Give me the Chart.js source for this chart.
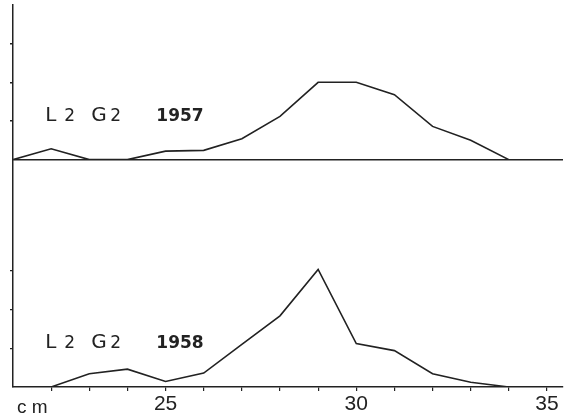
<!DOCTYPE html>
<html>
<head>
<meta charset="utf-8">
<script src="https://cdn.jsdelivr.net/npm/chart.js@4.4.0/dist/chart.umd.min.js"></script>
<style>
  html, body { margin: 0; padding: 0; background: #fff; }
  #wrap { width: 567px; height: 417px; }
</style>
</head>
<body>
<div id="wrap"><canvas id="chart" width="567" height="417"></canvas></div>
<script>
// length classes (cm)
var lengths = [21, 22, 23, 24, 25, 26, 27, 28, 29, 30, 31, 32, 33, 34];
// frequency, L2 G2 1957 (top panel)
var freq1957 = [0, 1.4, 0, 0, 1.1, 1.2, 2.7, 5.6, 10, 10, 8.4, 4.3, 2.5, 0];
// frequency, L2 G2 1958 (bottom panel)
var freq1958 = [null, 0, 1.7, 2.3, 0.7, 1.8, 5.5, 9.2, 15.2, 5.6, 4.7, 1.7, 0.6, 0];
// x tick labels shown, y tick marks
var xLabels = [25, 30, 35];
var yTicks = [5, 10, 15];

var ink = '#222';

function points(vals) {
    return lengths.map(function (x, i) { return { x: x, y: vals[i] }; });
}

// labels "L2 G2 1957" etc and the "cm" unit, drawn next to the axes
var textPlugin = {
    id: 'panelText',
    afterDraw: function (chart) {
        var c = chart.ctx;
        var xs = chart.scales.x;
        var panels = [
            { scale: chart.scales.yTop, year: '1957' },
            { scale: chart.scales.yBot, year: '1958' }
        ];
        c.save();
        c.fillStyle = ink;
        c.textBaseline = 'alphabetic';
        panels.forEach(function (p) {
            var yb = p.scale.getPixelForValue(0) - 39;
            var x0 = xs.getPixelForValue(21.9);
            c.font = '20px "DejaVu Sans", sans-serif';
            c.fillText('L', x0 - 2, yb);
            c.fillText('G', x0 + 44, yb);
            c.font = '17px "DejaVu Sans", sans-serif';
            c.fillText('2', x0 + 17, yb);
            c.fillText('2', x0 + 63, yb);
            c.font = 'bold 17px "DejaVu Sans", sans-serif';
            c.fillText(p.year, x0 + 109, yb);
        });
        c.font = '19px "Liberation Sans", Arial, sans-serif';
        c.fillText('c m', 17, 413);
        c.restore();
    }
};

var ctx = document.getElementById('chart').getContext('2d');

var myChart = new Chart(ctx, {
    type: 'line',
    data: {
        datasets: [{
            label: '1957',
            data: points(freq1957),
            yAxisID: 'yTop',
            borderColor: ink,
            borderWidth: 1.6,
            pointRadius: 0,
            tension: 0,
            fill: false
        }, {
            label: '1958',
            data: points(freq1958),
            yAxisID: 'yBot',
            borderColor: ink,
            borderWidth: 1.6,
            pointRadius: 0,
            tension: 0,
            spanGaps: false,
            fill: false
        }]
    },
    options: {
        responsive: false,
        animation: false,
        layout: { padding: { left: 10, right: 4, top: 5, bottom: 0 } },
        plugins: {
            legend: { display: false },
            tooltip: { enabled: false }
        },
        scales: {
            x: {
                type: 'linear',
                min: 21,
                max: 35.42,
                border: { color: ink, width: 1.5 },
                grid: {
                    drawOnChartArea: false,
                    tickLength: 4,
                    color: ink,
                    lineWidth: 1.2
                },
                afterBuildTicks: function (axis) {
                    axis.ticks = lengths.slice(1).concat([35]).map(function (v) { return { value: v }; });
                },
                ticks: {
                    autoSkip: false,
                    maxRotation: 0,
                    padding: 2,
                    color: ink,
                    font: { family: '"Liberation Sans", Arial, sans-serif', size: 21, lineHeight: 1.05 },
                    callback: function (v) { return xLabels.indexOf(v) >= 0 ? String(v) : ''; }
                }
            },
            // bottom panel first: the first axis of a stack is placed lowest
            yBot: {
                type: 'linear',
                position: 'left',
                stack: 'panels',
                stackWeight: 29.4,
                min: 0,
                max: 29.4,
                border: { color: ink, width: 1.5 },
                afterBuildTicks: function (axis) {
                    axis.ticks = yTicks.map(function (v) { return { value: v }; });
                },
                grid: {
                    drawOnChartArea: false,
                    tickLength: 3,
                    color: ink,
                    lineWidth: 1.2
                },
                ticks: { display: false }
            },
            yTop: {
                type: 'linear',
                position: 'left',
                stack: 'panels',
                stackWeight: 20,
                min: 0,
                max: 20,
                border: { color: ink, width: 1.5 },
                afterBuildTicks: function (axis) {
                    axis.ticks = [0].concat(yTicks).map(function (v) { return { value: v }; });
                },
                grid: {
                    drawOnChartArea: true,
                    tickLength: 3,
                    lineWidth: 1.4,
                    color: function (c) { return c.tick && c.tick.value === 0 ? ink : 'rgba(0,0,0,0)'; },
                    tickColor: function (c) { return c.tick && c.tick.value === 0 ? 'rgba(0,0,0,0)' : ink; }
                },
                ticks: { display: false }
            }
        }
    },
    plugins: [textPlugin]
});
</script>
</body>
</html>
